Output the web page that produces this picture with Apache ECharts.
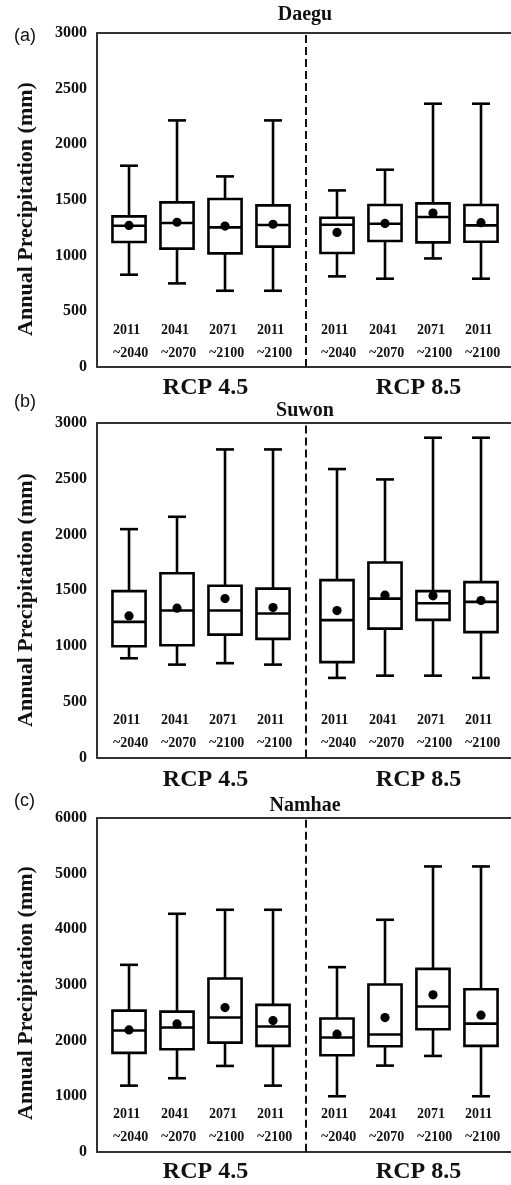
<!DOCTYPE html>
<html>
<head>
<meta charset="utf-8">
<script src="https://cdn.jsdelivr.net/npm/echarts@6/dist/echarts.min.js"></script>
<style>
html,body{margin:0;padding:0;background:#fff;}
#chart{width:511px;height:1185px;}
</style>
</head>
<body>
<div id="chart"></div>
<script>
// ---- data ----
const stations = ['Daegu', 'Suwon', 'Namhae'];
const panelLetters = ['(a)', '(b)', '(c)'];
const scenarios = ['RCP 4.5', 'RCP 8.5'];
const periodStart = ['2011', '2041', '2071', '2011', '2011', '2041', '2071', '2011'];
const periodEnd = ['~2040', '~2070', '~2100', '~2100', '~2040', '~2070', '~2100', '~2100'];
const yTicksMax = [3000, 3000, 6000];
const yTickStep = [500, 500, 1000];

const daeguMax = [1808, 2215, 1712, 2215, 1586, 1772, 2365, 2365];
const daeguQ3 = [1353, 1479, 1509, 1452, 1341, 1455, 1470, 1455];
const daeguMedian = [1269, 1293, 1254, 1275, 1278, 1287, 1347, 1272];
const daeguQ1 = [1123, 1063, 1021, 1081, 1024, 1132, 1119, 1125];
const daeguMin = [829, 751, 685, 685, 814, 793, 975, 793];
const daeguMean = [1272, 1300, 1266, 1282, 1209, 1290, 1383, 1296];

const suwonMax = [2048, 2159, 2763, 2763, 2587, 2494, 2868, 2868];
const suwonQ3 = [1492, 1653, 1540, 1515, 1591, 1749, 1492, 1573];
const suwonMedian = [1216, 1318, 1318, 1291, 1232, 1425, 1384, 1396];
const suwonQ1 = [998, 1007, 1102, 1064, 855, 1156, 1234, 1124];
const suwonMin = [890, 833, 846, 833, 714, 734, 734, 714];
const suwonMean = [1270, 1339, 1425, 1345, 1318, 1456, 1450, 1408];

const namhaeMax = [3360, 4278, 4350, 4350, 3318, 4170, 5129, 5129];
const namhaeQ3 = [2537, 2519, 3113, 2640, 2394, 3005, 3288, 2922];
const namhaeMedian = [2178, 2232, 2412, 2250, 2052, 2106, 2610, 2303];
const namhaeQ1 = [1776, 1843, 1962, 1902, 1735, 1897, 2203, 1902];
const namhaeMin = [1188, 1321, 1542, 1188, 997, 1548, 1722, 997];
const namhaeMean = [2190, 2298, 2591, 2357, 2113, 2412, 2820, 2455];

// ---- layout (not data) ----
const slotPos = [0.667, 1.667, 2.667, 3.667, 5, 6, 7, 8];
const GRID_W = 414;
const X_MAX = GRID_W / 48;
const DIVIDER = 4.35;
const gridTops = [33, 423, 818];
const gridHeights = [334, 334.5, 333.7];
const titleY = [14.5, 410.5, 806];
const letterY = [36, 402, 801];
const rcpY = [388, 780, 1172];
const yTitleY = [209, 600, 993];
const rcpX = [205.5, 418.5];

const SERIF = "'Liberation Serif','Times New Roman',serif";
const INK = '#111';
const FRAME = { show: true, lineStyle: { color: '#333', width: 2 } };

const panels = [
  [daeguMin, daeguQ1, daeguMedian, daeguQ3, daeguMax, daeguMean],
  [suwonMin, suwonQ1, suwonMedian, suwonQ3, suwonMax, suwonMean],
  [namhaeMin, namhaeQ1, namhaeMedian, namhaeQ3, namhaeMax, namhaeMean]
];

function renderBox(params, api) {
  const x = api.value(0);
  const idx = api.value(7);
  const pMin = api.coord([x, api.value(1)]);
  const pQ1 = api.coord([x, api.value(2)]);
  const pMed = api.coord([x, api.value(3)]);
  const pQ3 = api.coord([x, api.value(4)]);
  const pMax = api.coord([x, api.value(5)]);
  const pMean = api.coord([x, api.value(6)]);
  const pZero = api.coord([x, 0]);
  const boxW = api.size([0.69, 0])[0];
  const capW = api.size([0.375, 0])[0];
  const cx = pMin[0];
  const ls = { stroke: '#000', lineWidth: 2.6, fill: null };
  const children = [
    { type: 'line', shape: { x1: cx, y1: pMax[1], x2: cx, y2: pQ3[1] }, style: ls },
    { type: 'line', shape: { x1: cx, y1: pQ1[1], x2: cx, y2: pMin[1] }, style: ls },
    { type: 'line', shape: { x1: cx - capW / 2, y1: pMax[1], x2: cx + capW / 2, y2: pMax[1] }, style: ls },
    { type: 'line', shape: { x1: cx - capW / 2, y1: pMin[1], x2: cx + capW / 2, y2: pMin[1] }, style: ls },
    { type: 'rect', shape: { x: cx - boxW / 2, y: pQ3[1], width: boxW, height: pQ1[1] - pQ3[1] },
      style: { stroke: '#000', lineWidth: 2.6, fill: '#fff' } },
    { type: 'line', shape: { x1: cx - boxW / 2, y1: pMed[1], x2: cx + boxW / 2, y2: pMed[1] }, style: ls },
    { type: 'circle', shape: { cx: cx, cy: pMean[1], r: 4.6 }, style: { fill: '#000' } },
    { type: 'text', style: { text: periodStart[idx], x: cx - 16, y: pZero[1] - 37,
      fontFamily: SERIF, fontWeight: 'bold', fontSize: 14, fill: INK, align: 'left', verticalAlign: 'middle' } },
    { type: 'text', style: { text: periodEnd[idx], x: cx - 16, y: pZero[1] - 14,
      fontFamily: SERIF, fontWeight: 'bold', fontSize: 14, fill: INK, align: 'left', verticalAlign: 'middle' } }
  ];
  return { type: 'group', children: children };
}

const grids = [], xAxes = [], yAxes = [], series = [], graphics = [];
panels.forEach(function (p, k) {
  grids.push({ left: 97, width: GRID_W, top: gridTops[k], height: gridHeights[k],
    show: false, containLabel: false, outerBoundsMode: 'none' });
  xAxes.push({ type: 'value', gridIndex: k, position: 'bottom', min: 0, max: X_MAX,
    axisLine: FRAME, axisTick: { show: false }, axisLabel: { show: false }, splitLine: { show: false } });
  xAxes.push({ type: 'value', gridIndex: k, position: 'top', min: 0, max: X_MAX,
    axisLine: FRAME, axisTick: { show: false }, axisLabel: { show: false }, splitLine: { show: false } });
  yAxes.push({ type: 'value', gridIndex: k, min: 0, max: yTicksMax[k], interval: yTickStep[k],
    axisLine: FRAME, axisTick: { show: false }, splitLine: { show: false },
    axisLabel: { color: INK, fontFamily: SERIF, fontWeight: 'bold', fontSize: 16, margin: 10,
      formatter: function (v) { return String(v); } } });
  const data = slotPos.map(function (x, i) {
    return [x, p[0][i], p[1][i], p[2][i], p[3][i], p[4][i], p[5][i], i];
  });
  series.push({
    type: 'custom', xAxisIndex: 2 * k, yAxisIndex: k, renderItem: renderBox, data: data, silent: true,
    markLine: { silent: true, symbol: 'none', label: { show: false },
      lineStyle: { color: INK, width: 2, type: [8, 4] }, data: [{ xAxis: DIVIDER }] }
  });
  graphics.push({ type: 'text', x: 305, y: titleY[k],
    style: { text: stations[k], fontFamily: SERIF, fontWeight: 'bold', fontSize: 20, fill: INK, align: 'center', verticalAlign: 'middle' } });
  graphics.push({ type: 'text', x: 14, y: letterY[k],
    style: { text: panelLetters[k], fontFamily: "'Liberation Sans',Arial,sans-serif", fontSize: 18, fill: INK, align: 'left', verticalAlign: 'middle' } });
  scenarios.forEach(function (s, j) {
    graphics.push({ type: 'text', x: rcpX[j], y: rcpY[k],
      style: { text: s, fontFamily: SERIF, fontWeight: 'bold', fontSize: 24, fill: INK, align: 'center', verticalAlign: 'middle' } });
  });
  graphics.push({ type: 'text', x: 26, y: yTitleY[k], rotation: Math.PI / 2,
    style: { text: 'Annual Precipitation (mm)', fontFamily: SERIF, fontWeight: 'bold', fontSize: 22, fill: INK, align: 'center', verticalAlign: 'middle' } });
});

const chart = echarts.init(document.getElementById('chart'), null, { renderer: 'canvas' });
chart.setOption({
  animation: false,
  backgroundColor: '#fff',
  grid: grids,
  xAxis: xAxes,
  yAxis: yAxes,
  series: series,
  graphic: graphics
});
</script>
</body>
</html>
